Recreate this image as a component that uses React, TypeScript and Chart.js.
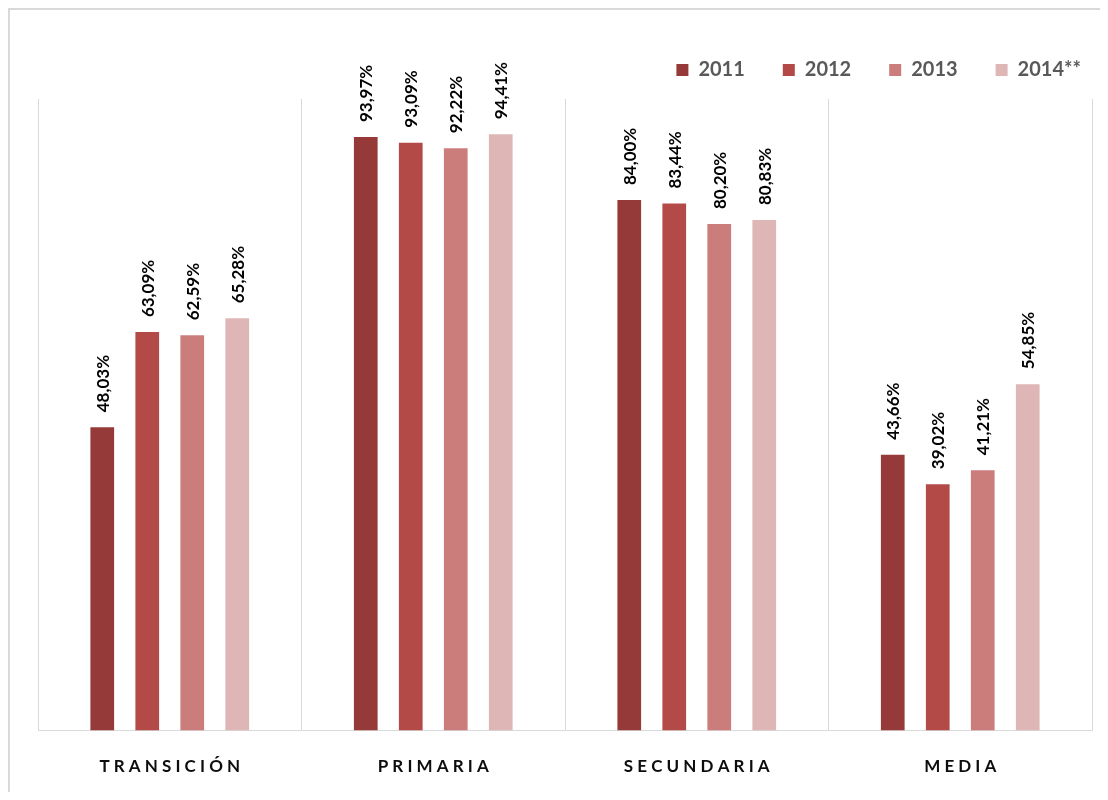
import { useEffect, useRef } from "react";
import { Chart, registerables } from "chart.js";

Chart.register(...registerables);

const categories = ["TRANSICIÓN", "PRIMARIA", "SECUNDARIA", "MEDIA"];
const seriesLabels = ["2011", "2012", "2013", "2014**"];
const values2011 = [48.03, 93.97, 84.0, 43.66];
const values2012 = [63.09, 93.09, 83.44, 39.02];
const values2013 = [62.59, 92.22, 80.2, 41.21];
const values2014 = [65.28, 94.41, 80.83, 54.85];
const seriesColors = ["#953A39", "#B34A48", "#CB7D7C", "#DFB6B6"];
const yMin = 0;
const yMax = 100;

const FONT = "Lato, 'Noto Sans', sans-serif";

const fmt = (v: number) => v.toFixed(2).replace(".", ",") + "%";

const layoutTweaks = {
  id: "layoutTweaks",
  beforeLayout(chart: any) {
    const lg = chart.legend;
    if (lg && !lg._patched) {
      const orig = lg.fit;
      lg.fit = function () {
        orig.call(this);
        this.height += 9;
      };
      lg._patched = true;
    }
  },
  afterLayout(chart: any) {
    if (chart.legend) {
      chart.legend.right += 27;
    }
  },
};

const barValueLabels = {
  id: "barValueLabels",
  afterDatasetsDraw(chart: any) {
    const ctx = chart.ctx;
    ctx.save();
    ctx.font = `bold 17px ${FONT}`;
    ctx.fillStyle = "#000000";
    ctx.textAlign = "left";
    ctx.textBaseline = "middle";
    chart.data.datasets.forEach((ds: any, di: number) => {
      const meta = chart.getDatasetMeta(di);
      meta.data.forEach((bar: any, i: number) => {
        const v = ds.data[i] as number;
        ctx.save();
        ctx.translate(bar.x + 1, bar.y - 15);
        ctx.rotate(-Math.PI / 2);
        ctx.fillText(fmt(v), 0, 0);
        ctx.restore();
      });
    });
    ctx.restore();
  },
};

export default function App() {
  const canvasRef = useRef<HTMLCanvasElement | null>(null);

  useEffect(() => {
    if (!canvasRef.current) return;
    const allValues = [values2011, values2012, values2013, values2014];
    const chart = new Chart(canvasRef.current, {
      type: "bar",
      data: {
        labels: categories,
        datasets: allValues.map((vals, i) => ({
          label: seriesLabels[i],
          data: vals,
          backgroundColor: seriesColors[i],
          borderWidth: 0,
          categoryPercentage: 0.683,
          barPercentage: 0.527,
        })),
      },
      options: {
        responsive: false,
        animation: false,
        layout: { padding: { top: 12, left: 28, right: 16, bottom: 0 } },
        plugins: {
          tooltip: { enabled: false },
          legend: {
            position: "top",
            align: "end",
            labels: {
              font: { family: FONT, size: 20, weight: "bold" },
              color: "#595959",
              boxWidth: 12,
              boxHeight: 12,
              padding: 38,
            },
          },
        },
        scales: {
          x: {
            grid: { color: "#d9d9d9", drawTicks: false, offset: true, lineWidth: 1 },
            border: { color: "#d9d9d9", width: 1 },
            ticks: {
              font: { family: FONT, size: 17, weight: "bold" },
              color: "#0d0d0d",
              padding: 26,
              callback: (_v: any, i: number) => categories[i].split("").join(" "),
            },
          },
          y: { display: false, min: yMin, max: yMax },
        },
      },
      plugins: [layoutTweaks, barValueLabels],
    });
    return () => chart.destroy();
  }, []);

  return (
    <div
      style={{
        width: 1098,
        height: 790,
        marginBottom: -8,
        borderTop: "2px solid #d9d9d9",
        borderLeft: "2px solid #d9d9d9",
        background: "#ffffff",
        overflow: "hidden",
      }}
    >
      <canvas ref={canvasRef} width={1098} height={793} style={{ display: "block" }} />
    </div>
  );
}
